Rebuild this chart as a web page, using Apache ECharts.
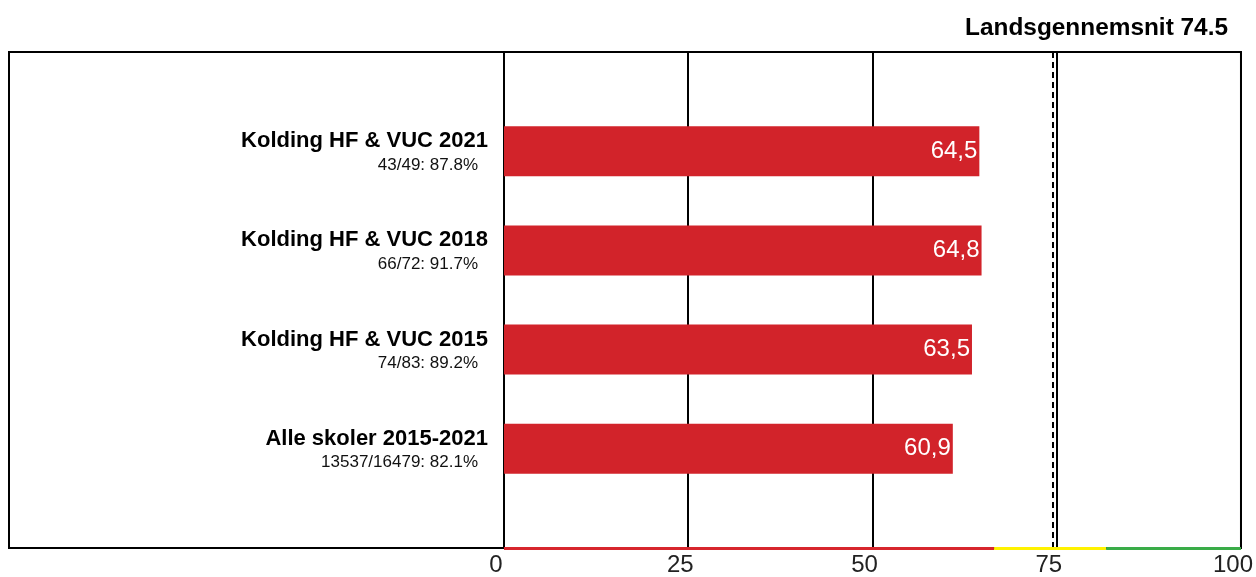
<!DOCTYPE html>
<html>
<head>
<meta charset="utf-8">
<script src="https://cdn.jsdelivr.net/npm/echarts@6/dist/echarts.min.js"></script>
<style>
  html, body { margin: 0; padding: 0; background: #fff; }
  #chart { width: 1256px; height: 577px; }
</style>
</head>
<body>
<div id="chart"></div>
<script>
// empty first/last slots keep the bars off the frame edges
const categories = ['', 'Kolding HF & VUC 2021', 'Kolding HF & VUC 2018', 'Kolding HF & VUC 2015', 'Alle skoler 2015-2021', ''];
const subLabels = ['', '43/49: 87.8%', '66/72: 91.7%', '74/83: 89.2%', '13537/16479: 82.1%', ''];
const values = ['-', 64.5, 64.8, 63.5, 60.9, '-'];
const nationalAverage = 74.5;
const xTicks = [0, 25, 50, 75, 100];
const bands = [
  {from: 0, to: 66.5, color: '#d7262d'},
  {from: 66.5, to: 81.7, color: '#fff200'},
  {from: 81.7, to: 100, color: '#3aac48'},
];

const FONT = '"Liberation Sans", Arial, sans-serif';
const chart = echarts.init(document.getElementById('chart'));
const lastIdx = categories.length - 1;

const bandLines = bands.map((b) => [
  {coord: [b.from, lastIdx], lineStyle: {color: b.color}},
  {coord: [b.to, lastIdx]},
]);

chart.setOption({
  animation: false,
  title: {
    text: 'Landsgennemsnit ' + nationalAverage,
    right: 23,
    top: 11,
    textStyle: {fontFamily: FONT, fontSize: 24.4, fontWeight: 'bold', color: '#000'},
  },
  grid: {
    left: 504, right: 12, top: 52, bottom: 29, containLabel: false,
    show: true, borderColor: '#000', borderWidth: 2, backgroundColor: 'transparent',
  },
  // frame round the label area, joined to the grid border
  graphic: [{
    type: 'polyline',
    z: 0,
    shape: {points: [[505, 52], [9, 52], [9, 548], [505, 548]]},
    style: {fill: null, stroke: '#000', lineWidth: 2},
  }],
  xAxis: {
    type: 'value',
    min: xTicks[0],
    max: xTicks[xTicks.length - 1],
    interval: 25,
    axisLine: {show: false},
    axisTick: {show: false},
    axisLabel: {
      fontFamily: FONT, fontSize: 24, color: '#222', margin: 5,
      padding: [0, 16, 0, 0],
    },
    splitLine: {show: true, lineStyle: {color: '#000', width: 2}},
  },
  yAxis: {
    type: 'category',
    data: categories,
    inverse: true,
    boundaryGap: false,
    axisLine: {show: false},
    axisTick: {show: false},
    splitLine: {show: false},
    axisLabel: {
      margin: 16,
      interval: 0,
      formatter: (val, i) => val ? '{a|' + val + '}\n{b|' + subLabels[i] + '}' : '',
      rich: {
        a: {fontFamily: FONT, fontSize: 22, fontWeight: 'bold', color: '#000', lineHeight: 28, align: 'right'},
        b: {fontFamily: FONT, fontSize: 17, color: '#111', lineHeight: 20, align: 'right', padding: [0, 10, 0, 0]},
      },
    },
  },
  series: [{
    type: 'bar',
    data: values,
    barWidth: 50,
    itemStyle: {color: '#d2232a'},
    label: {
      show: true,
      position: 'insideRight',
      distance: 2,
      fontFamily: FONT,
      fontSize: 24,
      color: '#fff',
      formatter: (p) => String(p.value).replace('.', ','),
    },
    markLine: {
      silent: true,
      symbol: 'none',
      label: {show: false},
      z: 10,
      data: [
        {xAxis: nationalAverage, lineStyle: {color: '#000', width: 2, type: [6, 4]}},
      ].concat(bandLines),
      lineStyle: {width: 3, type: 'solid'},
    },
  }],
});
</script>
</body>
</html>
